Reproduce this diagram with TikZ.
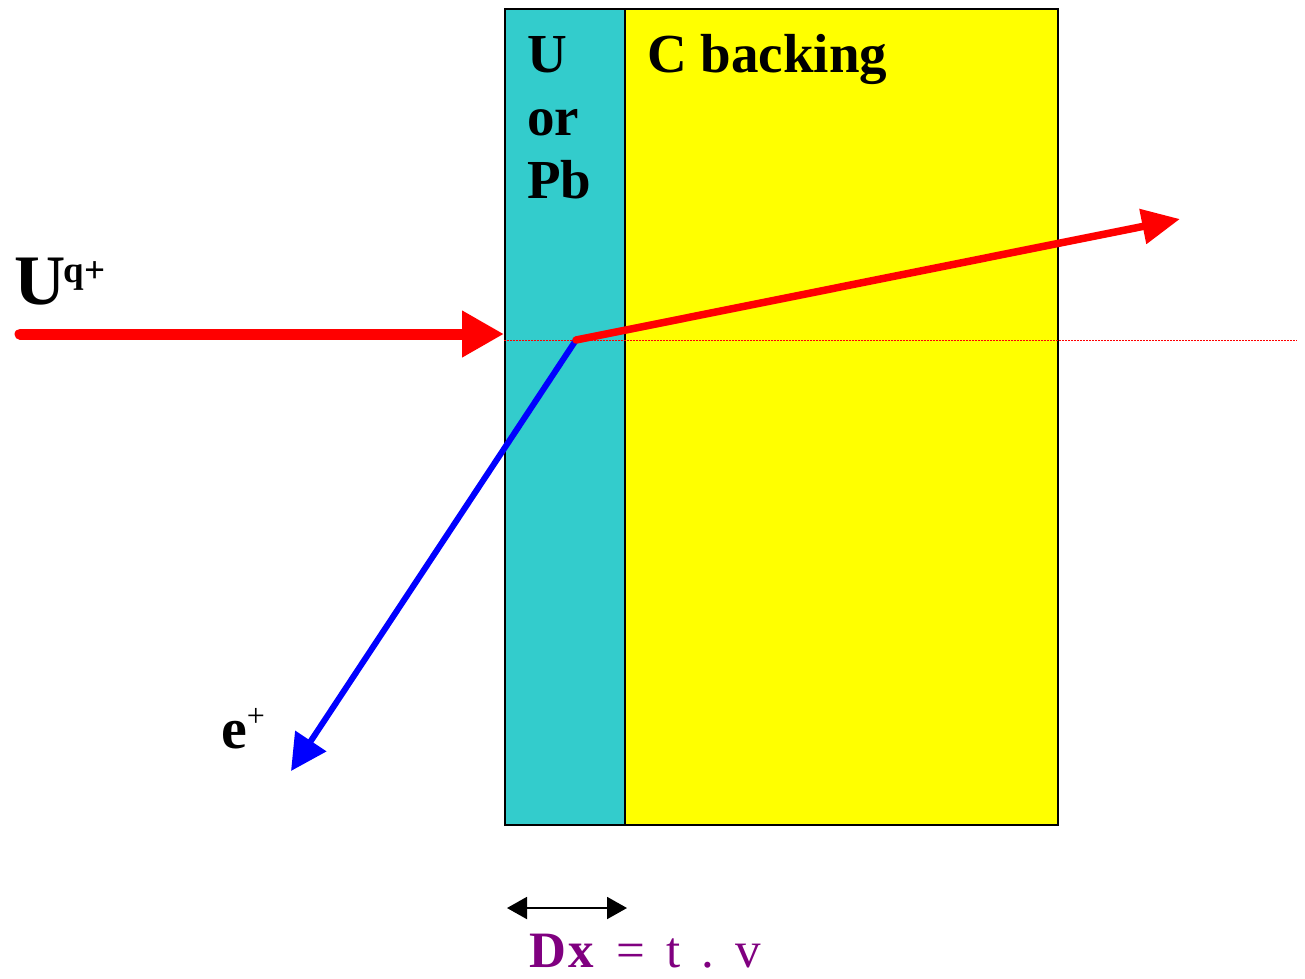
\documentclass[tikz,border=0pt]{standalone}
\usepackage{fontspec}
\setmainfont{Liberation Serif}
\usetikzlibrary{arrows.meta}
\definecolor{tcyan}{HTML}{33CCCC}
\definecolor{tyellow}{HTML}{FFFF00}
\definecolor{tpurple}{HTML}{800080}
\definecolor{tred}{HTML}{FF0000}
\definecolor{tblue}{HTML}{0000FF}
\tikzset{
  layer/.style={draw=black, line width=1.5pt, inner sep=0pt, anchor=north west},
  lbl/.style={inner sep=0pt, anchor=base west, font=\bfseries\fontsize{55}{63}\selectfont},
  beam/.style={line cap=round},
}
\begin{document}
\begin{tikzpicture}[x=1pt,y=-1pt]
\useasboundingbox (0,0) rectangle (1305,978);
% layers
\node[layer, fill=tyellow, minimum width=433pt, minimum height=816pt] (cb) at (624,8) {};
\node[layer, fill=tcyan, minimum width=120pt, minimum height=816pt] (tg) at (504,8) {};
% labels
\node[lbl] (t1a) at (527,72) {U};
\node[lbl] (t1b) at (527,135) {or};
\node[lbl] (t1c) at (527,198) {Pb};
\node[lbl] (t2) at (647,72) {C backing};
\node[inner sep=0pt, anchor=base west] (uq) at (14,304) {\bfseries\fontsize{71}{71}\selectfont U\kern-2pt\raisebox{22pt}{\fontsize{37}{37}\selectfont q+}};
\node[inner sep=0pt, anchor=base west] (ep) at (221,748) {\bfseries\fontsize{58}{58}\selectfont e\raisebox{22pt}{\mdseries\fontsize{32}{32}\selectfont +}};
% coordinates
\coordinate (in0) at (20,334);
\coordinate (in1) at (504,334);
\coordinate (v) at (576,340);
\coordinate (out) at (1180,219);
\coordinate (pos) at (291,771);
\coordinate (d0) at (504,340);
\coordinate (d1) at (1297,340);
% dotted reference line
\draw[tred, line width=1pt, dash pattern=on 1.5pt off 1.5pt] (d0) -- (d1);
% beams
\draw[beam, tred, line width=11pt, -{Triangle[length=42pt,width=44pt]}] (in0) -- (in1);
\draw[beam, tblue, line width=6pt, -{Triangle[length=36pt,width=36pt]}] (v) -- (pos);
\draw[beam, tred, line width=7.5pt, -{Triangle[length=38pt,width=34pt]}] (v) -- (out);
% thickness arrow
\coordinate (a0) at (507,908);
\coordinate (a1) at (627,908);
\draw[line width=2pt, {Triangle[length=20pt,width=22pt]}-{Triangle[length=20pt,width=22pt]}] (a0) -- (a1);
\node[inner sep=0pt, anchor=base west, text=tpurple] (dx) at (529,967) {\fontsize{51}{51}\selectfont\bfseries D\kern2pt x\kern23pt\mdseries =\kern21pt t\kern21pt.\kern21pt v};
\end{tikzpicture}
\end{document}
